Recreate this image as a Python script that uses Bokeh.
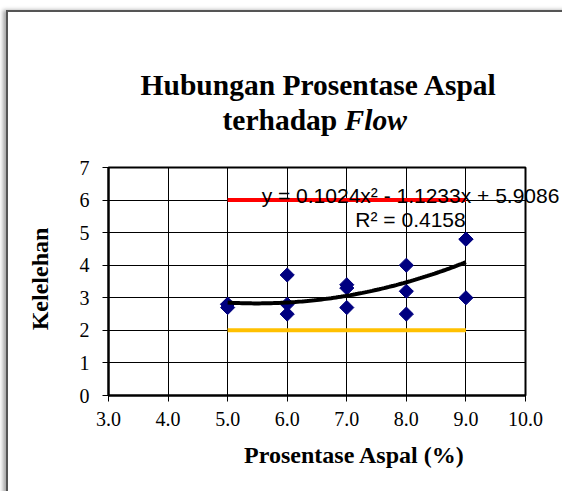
import numpy as np
from bokeh.plotting import figure
from bokeh.models import Range1d, FixedTicker, PrintfTickFormatter, Label, InlineStyleSheet
from bokeh.embed import file_html
from bokeh.resources import INLINE

# ---- data ----
aspal = [5, 5, 5, 6, 6, 6, 7, 7, 7, 8, 8, 8, 9, 9, 9]
kelelehan = [2.8, 2.7, 2.8, 3.7, 2.8, 2.5, 3.4, 3.3, 2.7, 4.0, 3.2, 2.5, 4.8, 3.0, 4.8]
trend_coef = [0.1024, -1.1233, 5.9086]   # y = a x^2 + b x + c
r_squared = 0.4158
spec_x = [5, 9]
spec_upper = [6, 6]
spec_lower = [2, 2]
x_ticks = [3, 4, 5, 6, 7, 8, 9, 10]
y_ticks = [0, 1, 2, 3, 4, 5, 6, 7]

p = figure(width=562, height=491, x_range=Range1d(3, 10), y_range=Range1d(0, 7),
           output_backend="svg", toolbar_location=None, title=None,
           min_border_left=108, min_border_right=37, min_border_top=167, min_border_bottom=96)
p.background_fill_color = "white"
p.border_fill_color = "white"
p.outline_line_color = "black"
p.outline_line_width = 2

for ax, ticks, fmt in ((p.xaxis, x_ticks, "%.1f"), (p.yaxis, y_ticks, "%d")):
    ax.ticker = FixedTicker(ticks=ticks)
    ax.formatter = PrintfTickFormatter(format=fmt)
    ax.axis_line_color = "black"
    ax.axis_line_width = 2
    ax.major_tick_line_color = "black"
    ax.major_tick_out = 6
    ax.major_tick_in = 0
    ax.minor_tick_line_color = None
    ax.major_label_text_font = "Liberation Serif"
    ax.major_label_text_font_size = "20px"
    ax.major_label_text_color = "black"
p.xaxis.major_label_standoff = 10
p.yaxis.major_label_standoff = 13

p.xgrid.grid_line_color = "black"
p.ygrid.grid_line_color = "black"
p.xgrid.grid_line_width = 1
p.ygrid.grid_line_width = 1

# spec limit lines
p.line(spec_x, spec_upper, line_color="#FF0000", line_width=4)
p.line(spec_x, spec_lower, line_color="#FFC000", line_width=4)

# data points
p.scatter(aspal, kelelehan, marker="square", size=10, angle=np.pi / 4,
          fill_color="#000080", line_color="#000080")

# polynomial trendline
tx = np.linspace(min(aspal), max(aspal), 100)
ty = np.polyval(trend_coef, tx)
p.line(tx, ty, line_color="black", line_width=4)

def lab(**kw):
    base = dict(text_baseline="alphabetic", text_color="black")
    base.update(kw)
    return Label(**base)

serif = dict(text_font="Liberation Serif", text_font_style="bold")

# ---- texts placed in side panels (not clipped to the plot frame) ----
eq1 = "y = %.4fx\u00b2 - %.4fx + %.4f" % (trend_coef[0], -trend_coef[1], trend_coef[2])
p.add_layout(lab(x=8.07, y=6.14, text=eq1, text_align="center",
                 text_font="Liberation Sans", text_font_size="21px"), "above")
p.add_layout(lab(x=8.07, y=5.40, text="R\u00b2 = %.4f" % r_squared, text_align="center",
                 text_font="Liberation Sans", text_font_size="21px"), "above")
p.add_layout(lab(x=6.534, y=9.52, text="Hubungan Prosentase Aspal", text_align="center",
                 text_font_size="29.5px", **serif), "above")
p.add_layout(lab(x=4.914, y=8.47, text="terhadap", text_align="left",
                 text_font_size="29.5px", **serif), "above")
p.add_layout(lab(x=6.962, y=8.47, text="Flow", text_align="left", text_font="Liberation Serif",
                 text_font_style="bold italic", text_font_size="29.5px"), "above")

# axis titles
p.add_layout(lab(x=7.13, y=-1.83, text="Prosentase Aspal (%)", text_align="center",
                 text_font_size="24px", **serif), "below")
p.add_layout(lab(x=1.842, y=3.577, text="Kelelehan", angle=np.pi / 2, text_align="center",
                 text_font_size="24px", **serif), "left")

# chart-area frame (left and top edges with a soft left shadow), drawn with CSS
frame_css = """
:host { position: relative; }
:host::after {
  content: ""; position: absolute; left: 6px; top: 10px; width: 700px; height: 700px;
  border-left: 2px solid #555555; border-top: 2px solid #555555;
  box-shadow: -3px 0 4px rgba(0,0,0,0.35);
  pointer-events: none; z-index: 10;
}
"""
p.stylesheets = [InlineStyleSheet(css=frame_css)]

open("out.html", "w").write(file_html(p, INLINE))
